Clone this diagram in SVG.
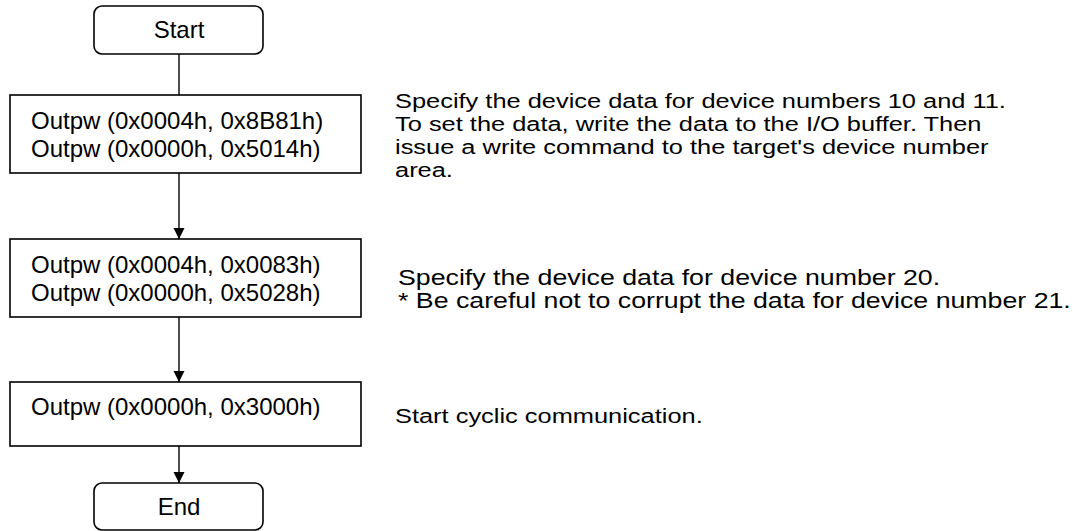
<svg xmlns="http://www.w3.org/2000/svg" width="1073" height="531" viewBox="0 0 1073 531">
<style>
.box{fill:#fff;stroke:#000;stroke-width:1.6}
.t{font-family:"Liberation Sans",Arial,sans-serif;font-size:24px;fill:#000}
.n{font-family:"Liberation Sans",Arial,sans-serif;font-size:20px;fill:#000}
.c{stroke:#000;stroke-width:1.4;fill:none}
</style>
<defs>
<marker id="ah" markerWidth="12" markerHeight="12" refX="11" refY="6" orient="auto" markerUnits="userSpaceOnUse">
<path d="M0,0.5 L11,6 L0,11.5 Z" fill="#000"/>
</marker>
</defs>
<rect width="1073" height="531" fill="#fff"/>
<g id="connectors">
<line class="c" x1="179" y1="54" x2="179" y2="95"/>
<line class="c" x1="179" y1="173" x2="179" y2="239" marker-end="url(#ah)"/>
<line class="c" x1="179" y1="317" x2="179" y2="382" marker-end="url(#ah)"/>
<line class="c" x1="179" y1="446" x2="179" y2="483" marker-end="url(#ah)"/>
</g>
<g id="start">
<rect class="box" x="94" y="6" width="169" height="48" rx="8"/>
<text class="t" x="179" y="38" text-anchor="middle">Start</text>
</g>
<g id="step1">
<rect class="box" x="10" y="95" width="351" height="78"/>
<text class="t" x="31" y="129">Outpw (0x0004h, 0x8B81h)</text>
<text class="t" x="31" y="157">Outpw (0x0000h, 0x5014h)</text>
</g>
<g id="step2">
<rect class="box" x="10" y="239" width="351" height="78"/>
<text class="t" x="31" y="273">Outpw (0x0004h, 0x0083h)</text>
<text class="t" x="31" y="301">Outpw (0x0000h, 0x5028h)</text>
</g>
<g id="step3">
<rect class="box" x="10" y="382" width="351" height="64"/>
<text class="t" x="31" y="415">Outpw (0x0000h, 0x3000h)</text>
</g>
<g id="end">
<rect class="box" x="94" y="483" width="169" height="47" rx="8"/>
<text class="t" x="179" y="515" text-anchor="middle">End</text>
</g>
<g id="note1" transform="translate(395 0) scale(1.27 1)">
<text class="n" x="0" y="108">Specify the device data for device numbers 10 and 11.</text>
<text class="n" x="0" y="131">To set the data, write the data to the I/O buffer. Then</text>
<text class="n" x="0" y="154">issue a write command to the target's device number</text>
<text class="n" x="0" y="177">area.</text>
</g>
<g id="note2" transform="translate(398 0) scale(1.215 1)">
<text class="n" x="0" y="285" style="font-size:22px">Specify the device data for device number 20.</text>
<text class="n" x="0" y="308" style="font-size:22px">* Be careful not to corrupt the data for device number 21.</text>
</g>
<g id="note3" transform="translate(395 0) scale(1.27 1)">
<text class="n" x="0" y="423">Start cyclic communication.</text>
</g>
</svg>
